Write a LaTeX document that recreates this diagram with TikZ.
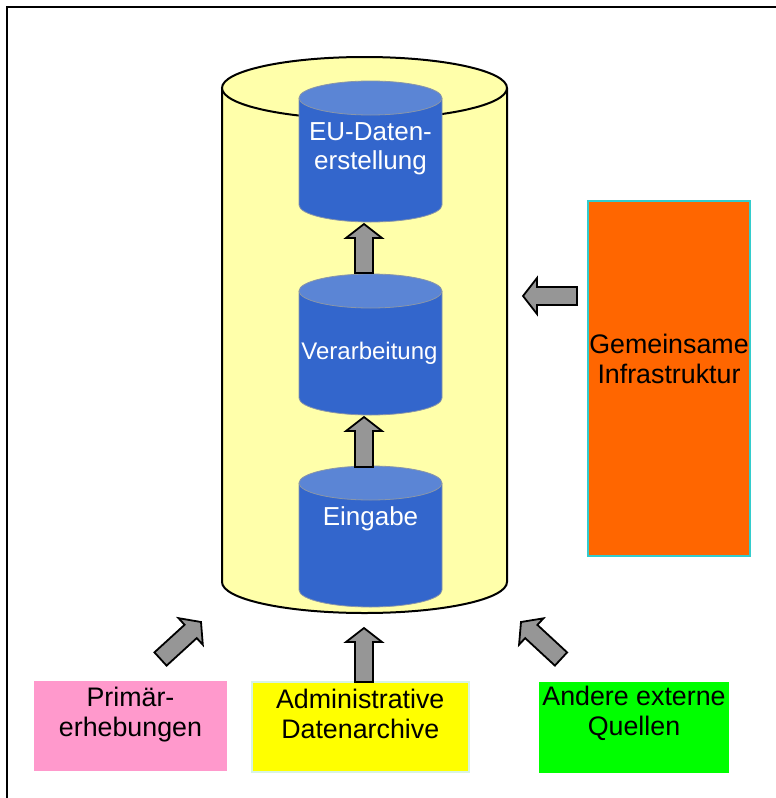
\documentclass[tikz,border=0pt]{standalone}
\usepackage{fontspec}
\setmainfont{Liberation Sans}
\usepackage{tikz}
\usetikzlibrary{calc}

\definecolor{tankyellow}{HTML}{FFFFAA}
\definecolor{storeblue}{HTML}{3366CC}
\definecolor{storelight}{HTML}{5B85D5}
\definecolor{storeedge}{HTML}{8A96A8}
\definecolor{arrowgray}{HTML}{969696}
\definecolor{infraorange}{HTML}{FF6600}
\definecolor{infraedge}{HTML}{33CCCC}
\definecolor{primpink}{HTML}{FF99CC}
\definecolor{adminyellow}{HTML}{FFFF00}
\definecolor{adminedge}{HTML}{D8F4E4}
\definecolor{anderegreen}{HTML}{00FF00}

\begin{document}
\begin{tikzpicture}[x=0.5pt, y=-0.5pt,
        frame/.style = {line width=1.1pt},
        tank/.style = {draw=black, fill=tankyellow, line width=1pt},
        storebody/.style = {draw=storeedge, fill=storeblue, line width=0.4pt},
        storetop/.style = {draw=storeedge, fill=storelight, line width=0.4pt},
        storetext/.style = {white, align=center, inner sep=0pt, font=\fontsize{13}{14.5}\selectfont},
        srcbox/.style = {rectangle, inner sep=0pt},
        srctext/.style = {align=center, inner sep=0pt, font=\fontsize{13.4}{15}\selectfont},
        blockarrow/.style = {draw=black, fill=arrowgray, line width=0.9pt, to path={
            ($(\tikztostart)!4.5pt!-90:(\tikztotarget)$)
            -- ($(\tikztotarget)!7pt!(\tikztostart)!4.5pt!90:(\tikztostart)$)
            -- ($(\tikztotarget)!7pt!(\tikztostart)!9pt!90:(\tikztostart)$)
            -- (\tikztotarget)
            -- ($(\tikztotarget)!7pt!(\tikztostart)!9pt!-90:(\tikztostart)$)
            -- ($(\tikztotarget)!7pt!(\tikztostart)!4.5pt!-90:(\tikztostart)$)
            -- ($(\tikztostart)!4.5pt!90:(\tikztotarget)$) -- cycle}},
        store/.pic = {
            \filldraw[storebody] (-71.5,0) -- (-71.5,107) arc[start angle=180, end angle=0, x radius=71.5, y radius=17] -- (71.5,0);
            \filldraw[storetop] (0,0) ellipse[x radius=71.5, y radius=17];
        },
        ]
        \useasboundingbox (0,0) rectangle (776,798);
        \draw[frame] (7,798) -- (7,7) -- (776,7);

        \filldraw[tank] (222,88) -- (222,582) arc[start angle=180, end angle=0, x radius=142.5, y radius=31] -- (507,88);
        \draw[tank] (364.5,88) ellipse[x radius=142.5, y radius=31];

        \pic at (370.5,98) {store};
        \pic at (370.5,291) {store};
        \pic at (370.5,483) {store};
        \node[storetext] (eu) at (370.5,149) {EU-Daten-\\erstellung};
        \node[storetext, font=\fontsize{12}{14}\selectfont] (verarb) at (369.5,353) {Verarbeitung};
        \node[storetext] (eingabe) at (370.5,519) {Eingabe};

        \node[srcbox, fill=infraorange, draw=infraedge, line width=1pt, minimum width=81pt, minimum height=177.5pt] (infra) at (669,378.5) {};
        \node[srctext] (infratext) at (669,358.5) {Gemeinsame\\Infrastruktur};
        \node[srcbox, fill=primpink, minimum width=96.5pt, minimum height=45pt] (prim) at (130.5,726) {};
        \node[srctext] (primtext) at (130.5,715) {Primär-\\erhebungen};
        \node[srcbox, fill=adminyellow, draw=adminedge, line width=0.8pt, minimum width=108.5pt, minimum height=45pt] (admin) at (360.25,727) {};
        \node[srctext] (admintext) at (360.25,714) {Administrative\\Datenarchive};
        \node[srcbox, fill=anderegreen, minimum width=95pt, minimum height=45.5pt] (andere) at (634,727.5) {};
        \node[srctext] (anderetext) at (634,713) {Andere externe\\Quellen};

        \coordinate (eubot) at (364,224);
        \coordinate (verarbtop) at (364,273);
        \coordinate (verarbbot) at (364,417);
        \coordinate (eingabetop) at (364,467);
        \coordinate (infratail) at (577,296);
        \coordinate (tankright) at (523,296);
        \coordinate (admintail) at (364,682);
        \coordinate (tankbot) at (364,628);
        \coordinate (primtail) at (160.5,659);
        \coordinate (tankleft) at (201,622);
        \coordinate (anderetail) at (561,659);
        \coordinate (tankbotright) at (521,622);

        \draw[blockarrow] (verarbtop) to (eubot);
        \draw[blockarrow] (eingabetop) to (verarbbot);
        \draw[blockarrow] (infratail) to (tankright);
        \draw[blockarrow] (admintail) to (tankbot);
        \draw[blockarrow] (primtail) to (tankleft);
        \draw[blockarrow] (anderetail) to (tankbotright);
\end{tikzpicture}
\end{document}
